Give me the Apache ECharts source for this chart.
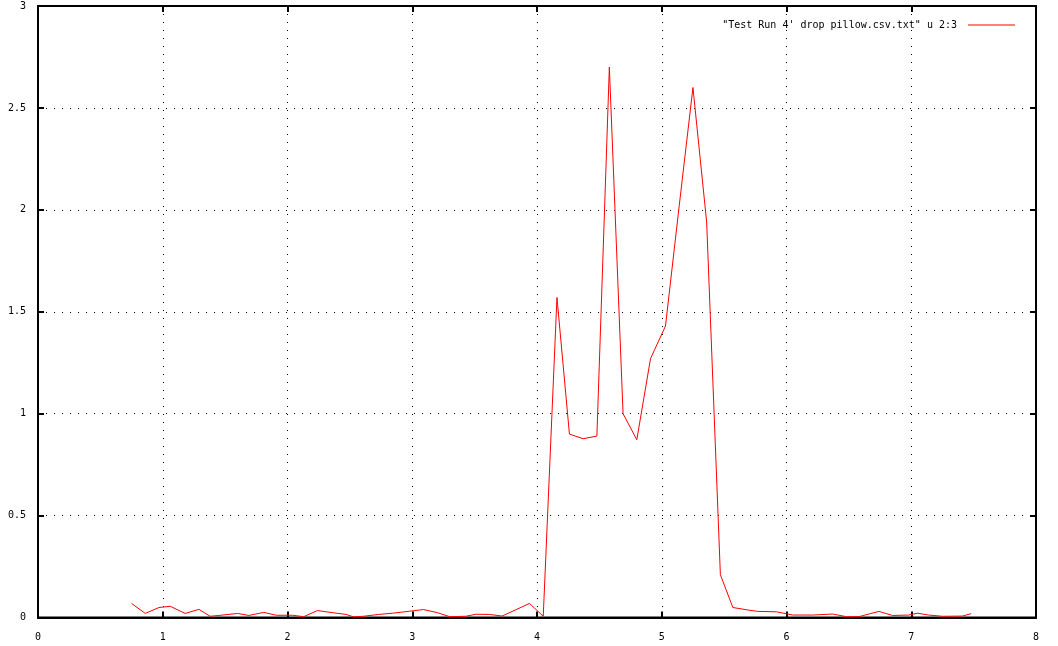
<!DOCTYPE html>
<html>
<head>
<meta charset="utf-8">
<script src="https://cdn.jsdelivr.net/npm/echarts@6/dist/echarts.min.js"></script>
<style>
html,body{margin:0;padding:0;background:#fff;}
#c{width:1058px;height:646px;}
</style>
</head>
<body>
<div id="c"></div>
<script>
const seriesName = "\"Test Run 4' drop pillow.csv.txt\" u 2:3";
const xValues = [0.75,0.86,0.97,1.06,1.18,1.29,1.38,1.45,1.60,1.69,1.81,1.91,2.04,2.13,2.24,2.37,2.47,2.53,2.61,2.73,2.84,2.98,3.09,3.20,3.30,3.43,3.51,3.62,3.72,3.94,4.05,4.16,4.26,4.37,4.48,4.58,4.69,4.80,4.91,5.03,5.14,5.25,5.36,5.47,5.57,5.70,5.77,5.92,6.05,6.21,6.37,6.48,6.58,6.74,6.85,6.98,7.05,7.14,7.25,7.41,7.48];
const yValues = [0.069,0.020,0.049,0.055,0.020,0.040,0.006,0.010,0.020,0.010,0.025,0.011,0.011,0.004,0.034,0.023,0.015,0.003,0.006,0.015,0.021,0.031,0.039,0.024,0.004,0.006,0.016,0.015,0.007,0.069,0.006,1.57,0.90,0.877,0.89,2.70,1.00,0.872,1.27,1.43,2.02,2.60,1.94,0.21,0.049,0.036,0.030,0.028,0.012,0.012,0.017,0.004,0.004,0.030,0.010,0.012,0.021,0.012,0.006,0.007,0.019];
const xTicks = [0,1,2,3,4,5,6,7,8];
const yTicks = [0,0.5,1,1.5,2,2.5,3];

const points = xValues.map((x, i) => [x, yValues[i]]);
const font = '"DejaVu Sans Mono", "Liberation Mono", monospace';
const dotted = {color: '#000', width: 1, type: [1, 7]};
const xMin = xTicks[0], xMax = xTicks[xTicks.length - 1];
const yMin = yTicks[0], yMax = yTicks[yTicks.length - 1];

const chart = echarts.init(document.getElementById('c'), null, {renderer: 'canvas'});
chart.setOption({
  animation: false,
  backgroundColor: '#fff',
  grid: {left: 38, right: 22, top: 6, bottom: 28.5, containLabel: false,
         show: true, borderColor: '#000', borderWidth: 2, backgroundColor: 'transparent'},
  legend: {
    data: [seriesName],
    right: 38,
    top: 15,
    align: 'right',
    icon: 'rect',
    itemWidth: 47,
    itemHeight: 1,
    textStyle: {fontFamily: font, fontSize: 10, color: '#000', padding: [0, 6, 0, 0]}
  },
  xAxis: [{
    type: 'value', min: xMin, max: xMax, interval: 1,
    axisLine: {show: true, lineStyle: {color: '#000', width: 2}},
    axisTick: {show: true, inside: true, length: 6, lineStyle: {color: '#000', width: 2}},
    axisLabel: {fontFamily: font, fontSize: 10, color: '#000', margin: 15},
    splitLine: {show: true, lineStyle: dotted}
  }, {
    type: 'value', position: 'top', min: xMin, max: xMax, interval: 1,
    axisLine: {show: true, onZero: false, lineStyle: {color: '#000', width: 2}},
    axisTick: {show: true, inside: true, length: 6, lineStyle: {color: '#000', width: 2}},
    axisLabel: {show: false},
    splitLine: {show: false}
  }],
  yAxis: [{
    type: 'value', min: yMin, max: yMax, interval: 0.5,
    axisLine: {show: true, lineStyle: {color: '#000', width: 2}},
    axisTick: {show: true, inside: true, length: 6, lineStyle: {color: '#000', width: 2}},
    axisLabel: {fontFamily: font, fontSize: 10, color: '#000', margin: 12},
    splitLine: {show: true, lineStyle: dotted}
  }, {
    type: 'value', position: 'right', min: yMin, max: yMax, interval: 0.5,
    axisLine: {show: true, onZero: false, lineStyle: {color: '#000', width: 2}},
    axisTick: {show: true, inside: true, length: 6, lineStyle: {color: '#000', width: 2}},
    axisLabel: {show: false},
    splitLine: {show: false}
  }],
  series: [{
    name: seriesName,
    type: 'line',
    xAxisIndex: 0,
    yAxisIndex: 0,
    data: points,
    showSymbol: false,
    symbol: 'none',
    lineStyle: {color: '#ff0000', width: 1},
    itemStyle: {color: '#ff0000'}
  }, {
    name: 'mirror',
    type: 'line',
    xAxisIndex: 1,
    yAxisIndex: 1,
    data: [],
    silent: true,
    showSymbol: false,
    lineStyle: {opacity: 0}
  }]
});
</script>
</body>
</html>
